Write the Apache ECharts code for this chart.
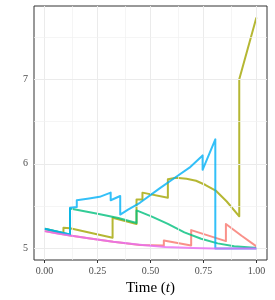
<!DOCTYPE html>
<html>
<head>
<meta charset="utf-8">
<script src="https://cdn.jsdelivr.net/npm/echarts@6/dist/echarts.min.js"></script>
<style>
html,body{margin:0;padding:0;background:#fff;}
#c{width:275px;height:300px;}
</style>
</head>
<body>
<div id="c"></div>
<script>
// ---- data ----
const xTicks = [0, 0.25, 0.5, 0.75, 1];
const yTicks = [5, 6, 7];
const xMinorGrid = [0.125, 0.375, 0.625, 0.875];
const yMinorGrid = [5.5, 6.5, 7.5];

const tSalmon = [0, 0.12, 0.215, 0.324, 0.449, 0.563, 0.563, 0.692, 0.692, 0.856, 0.856, 0.93, 1.0];
const vSalmon = [5.205, 5.152, 5.118, 5.079, 5.042, 5.035, 5.095, 5.036, 5.217, 5.087, 5.29, 5.15, 5.025];

const tOlive = [0, 0.089, 0.089, 0.12, 0.321, 0.321, 0.434, 0.434, 0.462, 0.462, 0.582, 0.582, 0.62, 0.67, 0.715, 0.76, 0.81, 0.86, 0.919, 0.919, 1.0];
const vOlive = [5.233, 5.18, 5.245, 5.24, 5.127, 5.363, 5.29, 5.58, 5.58, 5.66, 5.60, 5.817, 5.835, 5.825, 5.80, 5.75, 5.68, 5.555, 5.38, 7.0, 7.73];

const tGreen = [0, 0.12, 0.12, 0.25, 0.348, 0.434, 0.434, 0.504, 0.582, 0.66, 0.739, 0.817, 0.895, 0.99, 1.0];
const vGreen = [5.233, 5.166, 5.473, 5.41, 5.36, 5.30, 5.45, 5.38, 5.29, 5.19, 5.115, 5.06, 5.027, 5.008, 5.005];

const tCyan = [0, 0.12, 0.12, 0.152, 0.152, 0.21, 0.26, 0.312, 0.312, 0.357, 0.357, 0.394, 0.45, 0.543, 0.62, 0.684, 0.746, 0.746, 0.806, 0.806, 1.0];
const vCyan = [5.233, 5.166, 5.48, 5.49, 5.57, 5.59, 5.61, 5.66, 5.57, 5.62, 5.40, 5.46, 5.54, 5.71, 5.845, 5.955, 6.10, 5.93, 6.29, 5.0, 5.0];

const tPink = [0, 0.06, 0.12, 0.215, 0.324, 0.449, 0.57, 0.7, 0.8, 0.9, 1.0];
const vPink = [5.205, 5.178, 5.152, 5.118, 5.079, 5.045, 5.018, 5.005, 5.0, 5.0, 5.0];

const seriesNames = ['1', '2', '3', '4', '5'];
const seriesColors = ['#F8766D', '#A3A500', '#00BF7D', '#00B0F6', '#E76BF3'];
const seriesT = [tSalmon, tOlive, tGreen, tCyan, tPink];
const seriesV = [vSalmon, vOlive, vGreen, vCyan, vPink];

// ---- chart ----
const FONT = 'Liberation Serif';
const zip = (a, b) => a.map((x, i) => [x, b[i]]);

const gridLines = [];
xTicks.forEach(v => gridLines.push({xAxis: v, lineStyle: {color: '#EBEBEB', width: 1, type: 'solid'}}));
xMinorGrid.forEach(v => gridLines.push({xAxis: v, lineStyle: {color: '#F0F0F0', width: 0.7, type: 'solid'}}));
yTicks.forEach(v => gridLines.push({yAxis: v, lineStyle: {color: '#EBEBEB', width: 1, type: 'solid'}}));
yMinorGrid.forEach(v => gridLines.push({yAxis: v, lineStyle: {color: '#F0F0F0', width: 0.7, type: 'solid'}}));

const series = [{
  type: 'line', name: 'grid', data: [[0, 5]], showSymbol: false, silent: true, z: 0,
  lineStyle: {opacity: 0, width: 0},
  markLine: {silent: true, symbol: ['none', 'none'], label: {show: false}, animation: false, data: gridLines}
}];
seriesNames.forEach((n, i) => {
  series.push({
    type: 'line', name: n, data: zip(seriesT[i], seriesV[i]),
    showSymbol: false, symbol: 'none', z: 2 + i,
    lineStyle: {color: seriesColors[i], width: 2, opacity: 0.8, join: 'round'},
    itemStyle: {color: seriesColors[i]}
  });
});

const chart = echarts.init(document.getElementById('c'), null, {renderer: 'canvas'});
chart.setOption({
  animation: false,
  backgroundColor: '#fff',
  grid: {left: 34, right: 8, top: 6, bottom: 40, show: true, borderColor: '#333333', borderWidth: 1, backgroundColor: 'transparent', containLabel: false, outerBoundsMode: 'none'},
  xAxis: {
    type: 'value', min: -0.05, max: 1.05,
    axisLine: {show: false},
    splitLine: {show: false},
    axisTick: {show: true, length: 3, lineStyle: {color: '#333333', width: 1}, customValues: xTicks},
    axisLabel: {customValues: xTicks, formatter: v => v.toFixed(2), color: '#4D4D4D', fontFamily: FONT, fontSize: 10, margin: 6},
    name: '{a|Time (}{b|t}{a|)}', nameLocation: 'middle', nameGap: 18,
    nameTextStyle: {color: '#000', fontFamily: FONT, fontSize: 15,
      rich: {a: {fontFamily: FONT, fontSize: 15, color: '#000'}, b: {fontFamily: FONT, fontSize: 15, fontStyle: 'italic', color: '#000'}}}
  },
  yAxis: {
    type: 'value', min: 4.8635, max: 7.8665,
    axisLine: {show: false},
    splitLine: {show: false},
    axisTick: {show: true, length: 3, lineStyle: {color: '#333333', width: 1}, customValues: yTicks},
    axisLabel: {customValues: yTicks, formatter: v => String(v), color: '#4D4D4D', fontFamily: FONT, fontSize: 10, margin: 6}
  },
  series: series
});
</script>
</body>
</html>
